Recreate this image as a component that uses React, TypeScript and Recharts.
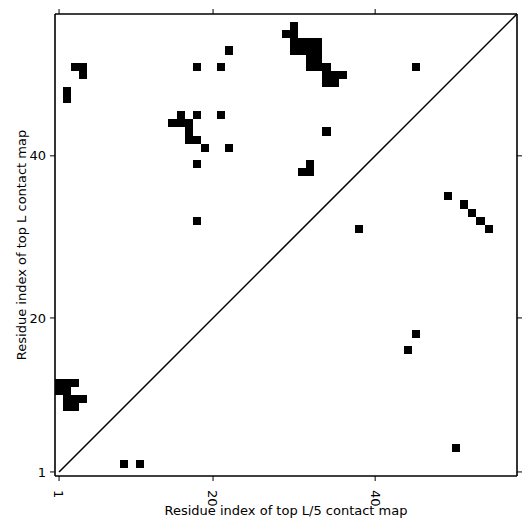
import { ScatterChart, Scatter, XAxis, YAxis, ReferenceArea, ReferenceLine } from "recharts";

// residue index range of the map (cells centred on integers)
const domain: [number, number] = [0.5, 57.5];
const xTicks = [1, 20, 40];
const yTicks = [1, 20, 40];
const xTitle = "Residue index of top L/5 contact map";
const yTitle = "Residue index of top L contact map";

// contacts above the diagonal [i, j]
const upperContacts: [number, number][] = [
  [1, 12], [2, 12], [3, 12], [1, 11], [2, 11], [2, 10], [3, 10], [4, 10], [2, 9], [3, 9],
  [3, 51], [4, 51], [4, 50], [2, 48], [2, 47],
  [22, 53], [18, 51], [21, 51], [16, 45], [18, 45], [21, 45], [15, 44], [16, 44], [17, 44],
  [17, 43], [17, 42], [18, 42], [19, 41], [22, 41], [18, 39], [18, 32],
  [30, 56], [29, 55], [30, 55], [30, 54], [31, 54], [32, 54], [33, 54],
  [30, 53], [31, 53], [32, 53], [33, 53], [32, 52], [33, 52], [32, 51], [33, 51], [34, 51],
  [34, 50], [35, 50], [36, 50], [34, 49], [35, 49],
  [45, 51], [34, 43], [32, 39], [31, 38], [32, 38],
];

// contacts below the diagonal [i, j]
const lowerContacts: [number, number][] = [
  [9, 2], [11, 2], [44, 16], [45, 18], [50, 4], [38, 31],
  [49, 35], [51, 34], [52, 33], [53, 32], [54, 31],
];

const FONT = "DejaVu Sans, sans-serif";

function RotatedTick({ x, y, payload }: any) {
  return (
    <g transform={`translate(${x},${y})`}>
      <text transform="rotate(90)" x={7} y={0} dy="0.35em" textAnchor="start" fontSize={13} fontFamily={FONT} fill="#000">
        {payload.value}
      </text>
    </g>
  );
}

export default function App() {
  const cells = [...upperContacts, ...lowerContacts];
  const points = cells.map(([x, y]) => ({ x, y }));
  return (
    <div style={{ width: 515, height: 515 }}>
      <ScatterChart width={515} height={515} margin={{ top: 0, right: 0, bottom: 0, left: 0 }}>
        <XAxis
          type="number"
          dataKey="x"
          domain={domain}
          ticks={xTicks}
          height={47}
          tickSize={5}
          tick={<RotatedTick />}
          axisLine={{ stroke: "#000", strokeWidth: 1.6 }}
          tickLine={{ stroke: "#000" }}
          allowDataOverflow
          label={{
            content: ({ viewBox }: any) => (
              <text x={viewBox.x + viewBox.width / 2} y={502} dy="0.35em" textAnchor="middle" fontSize={13} fontFamily={FONT} fill="#000">
                {xTitle}
              </text>
            ),
          }}
        />
        <XAxis
          xAxisId="top"
          orientation="top"
          type="number"
          dataKey="x"
          domain={domain}
          ticks={xTicks}
          height={6}
          tickSize={5}
          tick={() => <g />}
          axisLine={{ stroke: "#000", strokeWidth: 1.6 }}
          tickLine={{ stroke: "#000" }}
          allowDataOverflow
        />
        <YAxis
          type="number"
          dataKey="y"
          domain={domain}
          ticks={yTicks}
          width={47}
          tickSize={5}
          tickMargin={4}
          tick={{ fontSize: 13, fontFamily: FONT, fill: "#000" }}
          axisLine={{ stroke: "#000", strokeWidth: 1.6 }}
          tickLine={{ stroke: "#000" }}
          allowDataOverflow
          label={{
            content: ({ viewBox }: any) => {
              const cx = 13;
              const cy = viewBox.y + viewBox.height / 2;
              return (
                <text x={cx} y={cy} dy="0.35em" transform={`rotate(-90, ${cx}, ${cy})`} textAnchor="middle" fontSize={13} fontFamily={FONT} fill="#000">
                  {yTitle}
                </text>
              );
            },
          }}
        />
        <YAxis
          yAxisId="right"
          orientation="right"
          type="number"
          dataKey="y"
          domain={domain}
          ticks={yTicks}
          width={6}
          tickSize={5}
          tick={() => <g />}
          axisLine={{ stroke: "#000", strokeWidth: 1.6 }}
          tickLine={{ stroke: "#000" }}
          allowDataOverflow
        />
        <Scatter data={points} shape={() => <g />} isAnimationActive={false} />
        <Scatter data={points} xAxisId="top" yAxisId="right" shape={() => <g />} isAnimationActive={false} />
        {cells.map(([i, j]) => (
          <ReferenceArea
            key={`${i}-${j}`}
            x1={i - 0.5}
            x2={i + 0.5}
            y1={j - 0.5}
            y2={j + 0.5}
            fill="#000"
            fillOpacity={1}
            stroke="none"
            shapeRendering="crispEdges"
          />
        ))}
        <ReferenceLine
          segment={[{ x: 1, y: 1 }, { x: 57.5, y: 57.5 }]}
          stroke="#000"
          strokeWidth={1.5}
          ifOverflow="hidden"
        />
      </ScatterChart>
    </div>
  );
}
